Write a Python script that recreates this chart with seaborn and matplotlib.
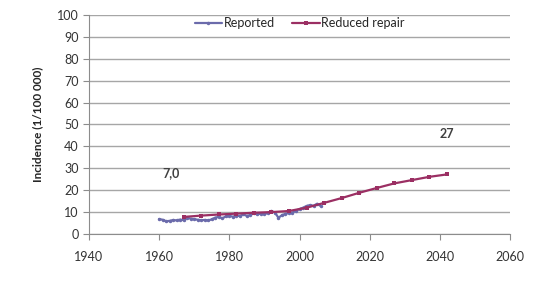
import numpy as np
import pandas as pd
import seaborn as sns
import matplotlib.pyplot as plt

# data
reported_years = list(range(1960, 2007))
reported_vals = [6.8, 6.5, 5.8, 6.0, 6.4, 6.2, 6.6, 6.3, 7.4, 7.0,
                 6.8, 6.5, 6.3, 6.4, 6.2, 6.7, 7.5, 7.8, 7.2, 8.0,
                 8.3, 7.9, 8.4, 8.2, 8.9, 8.3, 8.6, 9.8, 9.0, 9.3,
                 9.1, 9.6, 10.5, 9.8, 7.4, 8.6, 9.2, 9.6, 9.8, 10.6,
                 11.4, 12.0, 12.8, 13.2, 12.9, 13.8, 12.8]
repair_years = list(range(1967, 2043, 5))
repair_vals = [7.8, 8.4, 8.9, 9.3, 9.7, 10.0, 10.5, 12.0,
               14.2, 16.4, 18.8, 21.0, 23.1, 24.6, 26.1, 27.2]

df = pd.concat([
    pd.DataFrame({'year': reported_years, 'value': reported_vals, 'series': 'Reported'}),
    pd.DataFrame({'year': repair_years, 'value': repair_vals, 'series': 'Reduced repair'}),
])

sns.set_style('white')
plt.rcParams['font.family'] = ['Lato', 'DejaVu Sans']

fig = plt.figure(figsize=(5.48, 2.93), dpi=100)
ax = fig.add_axes([0.1624, 0.2014, 0.7683, 0.7474])

palette = {'Reported': '#6b6bab', 'Reduced repair': '#9b2f63'}
markers = {'Reported': 'o', 'Reduced repair': 's'}
sns.lineplot(data=df, x='year', y='value', hue='series', style='series',
             palette=palette, markers=markers, dashes=False, markersize=2.5,
             markeredgewidth=0, linewidth=1.6, ax=ax)

ax.set_xlim(1940, 2060)
ax.set_ylim(0, 100)
ax.set_xticks(range(1940, 2061, 20))
ax.set_yticks(range(0, 101, 10))
ax.yaxis.grid(True, color='#a6a6a6', linewidth=1)
ax.set_axisbelow(True)
for s in ['top', 'right']:
    ax.spines[s].set_visible(False)
for s in ['left', 'bottom']:
    ax.spines[s].set_color('#8c8c8c')
ax.tick_params(axis='both', direction='out', length=4, color='#8c8c8c',
               labelsize=9, labelcolor='#333333', left=True, bottom=True)
ax.tick_params(axis='x', pad=8)
ax.set_xlabel('')
ax.set_ylabel('Incidence (1/100 000)', fontsize=8.5, fontweight='bold', labelpad=10)

ax.text(1963.5, 26, '7,0', fontsize=9, fontweight='bold', color='#404040', ha='center')
ax.text(2042, 44, '27', fontsize=9, fontweight='bold', color='#404040', ha='center')

ax.legend(loc='upper center', bbox_to_anchor=(0.5, 1.04), ncol=2, frameon=False,
          fontsize=9, handlelength=2.2, columnspacing=1.4, handletextpad=0.1)

fig.savefig('out.png', dpi=100)
